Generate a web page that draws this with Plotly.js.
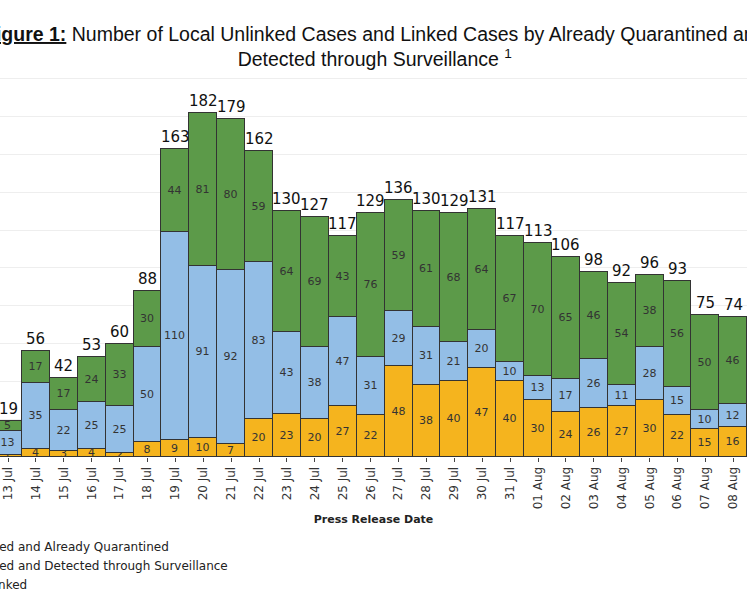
<!DOCTYPE html>
<html><head><meta charset="utf-8">
<script src="https://cdn.plot.ly/plotly-3.0.1.min.js"></script>
<style>body{margin:0}#c{width:747px;height:598px}</style></head>
<body><div id="c"></div><script>
const dates=["13 Jul","14 Jul","15 Jul","16 Jul","17 Jul","18 Jul","19 Jul","20 Jul","21 Jul","22 Jul","23 Jul","24 Jul","25 Jul","26 Jul","27 Jul","28 Jul","29 Jul","30 Jul","31 Jul","01 Aug","02 Aug","03 Aug","04 Aug","05 Aug","06 Aug","07 Aug","08 Aug"];
const unlinked=[1,4,3,4,2,8,9,10,7,20,23,20,27,22,48,38,40,47,40,30,24,26,27,30,22,15,16];
const surveillance=[13,35,22,25,25,50,110,91,92,83,43,38,47,31,29,31,21,20,10,13,17,26,11,28,15,10,12];
const quarantined=[5,17,17,24,33,30,44,81,80,59,64,69,43,76,59,61,68,64,67,70,65,46,54,38,56,50,46];
const idx=dates.map((d,i)=>i);
const totals=idx.map(i=>unlinked[i]+surveillance[i]+quarantined[i]);
function tr(name,y,color){return {type:'bar',name:name,x:idx,y:y,width:1,
 marker:{color:color,line:{color:'#333',width:1}},text:y.map(String),textposition:'inside',
 insidetextanchor:'middle',textangle:0,constraintext:'none',textfont:{size:11,color:'#333',family:'DejaVu Sans'},hoverinfo:'y'};}
const data=[tr('Unlinked',unlinked,'#f5b41e'),tr('Linked and Detected through Surveillance',surveillance,'#93bee6'),tr('Linked and Already Quarantined',quarantined,'#5c9a49')];
const ann=idx.map(i=>({x:i,y:totals[i],text:String(totals[i]),showarrow:false,yanchor:'bottom',yshift:1,font:{size:15,color:'#111',family:'DejaVu Sans'}}));
ann.push({xref:'paper',yref:'paper',x:375/747,y:1,yshift:-31,xanchor:'center',yanchor:'bottom',showarrow:false,align:'center',
 text:'<b><u>Figure 1:</u></b> Number of Local Unlinked Cases and Linked Cases by Already Quarantined and<br>Detected through Surveillance <sup>1</sup>',
 font:{size:19.5,color:'#111',family:'Liberation Sans'}});
Plotly.newPlot('c',data,{width:747,height:598,barmode:'stack',bargap:0,showlegend:true,
 margin:{l:0,r:0,t:41,b:141,autoexpand:false},paper_bgcolor:'#fff',plot_bgcolor:'#fff',
 uniformtext:{minsize:11,mode:'show'},
 xaxis:{range:[-0.287,26.49],tickvals:idx,ticktext:dates,tickangle:-90,ticks:'outside',ticklen:4,tickcolor:'#444',automargin:false,
  tickfont:{size:12,color:'#333',family:'DejaVu Sans'},showgrid:false,zeroline:false,showline:false,
  title:{text:'<b>Press Release Date</b>',font:{size:11,color:'#222',family:'DejaVu Sans'},standoff:6}},
 yaxis:{range:[0,220],dtick:20,showticklabels:false,gridcolor:'#eee',zeroline:false,automargin:false},
 legend:{x:-0.087,y:-0.18,xanchor:'left',yanchor:'top',traceorder:'reversed',font:{size:12,color:'#222',family:'DejaVu Sans'},tracegroupgap:0},
 annotations:ann},{displayModeBar:false});
</script></body></html>
